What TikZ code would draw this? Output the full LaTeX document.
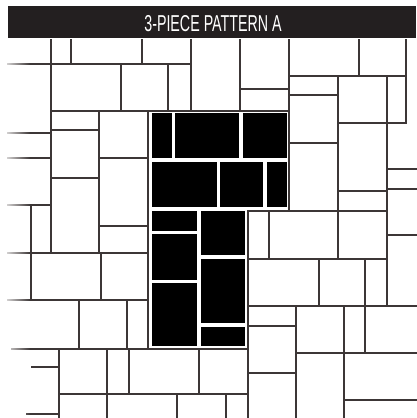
\documentclass[tikz,border=0pt]{standalone}
\usepackage{fontspec}
\newfontfamily\titlefont[FakeStretch=0.62]{Liberation Sans}
\usepackage{tikz}
\usetikzlibrary{fadings}
\definecolor{GroutGray}{RGB}{60,54,54}
\definecolor{BarBlack}{RGB}{35,31,32}

\begin{document}
\begin{tikzpicture}[x=1pt, y=-1pt,
    grout/.style={draw=GroutGray, line width=2pt, line cap=rect},
    paver/.style={fill=black},
    banner/.style={fill=BarBlack},
    title/.style={font=\titlefont\fontsize{23}{23}\selectfont, text=white, inner sep=0pt}
]
\useasboundingbox (0,0) rectangle (416,418);
\fill[white] (0,0) rectangle (416,418);
\fill[banner] (8,6) rectangle (416,38);
\node[title] (title) at (213,23.5) {3-PIECE PATTERN A};

\foreach \y/\a/\b in {63.5/8/191, 110.5/51/289, 133/8/51, 130/51/99, 158/8/51, 158/99/148,
    178/51/99, 205/8/51, 226/100/148, 253/8/148, 300/8/148, 348.5/12/248, 367/32/59,
    394/59/248, 414/27/59, 89/240/289, 76/289/406, 95/289/338, 143/289/338, 123/338/406,
    169/387/416, 189/387/416, 191/338/387, 210.5/248/387, 235/387/416, 259/248/387,
    306/248/416, 326/248/296, 373/248/296, 353/296/416, 400/344/416}
    \draw[grout] (\a,\y) -- (\b,\y);

\foreach \x/\a/\b in {51/40/253, 71/40/63.5, 142/40/63.5, 191/40/110.5, 240/40/110.5,
    289/40/210.5, 121/63.5/110.5, 168/63.5/110.5, 99/110.5/253, 148/110.5/348.5,
    31/205/300, 101/253/300, 79/300/348.5, 127/300/348.5, 59/348.5/418, 107/348.5/418,
    129/348.5/394, 199/348.5/394, 177/394/418, 226/394/418, 248/210.5/418, 269/210.5/259,
    338/76/259, 387/76/306, 359/40/76, 406/40/123, 319/259/306, 365/259/353,
    296/306/418, 344/306/418}
    \draw[grout] (\x,\a) -- (\x,\b);

\foreach \a/\b/\c/\d in {152/112.5/172/158, 175/112.5/239/158, 243/112.5/286.5/158,
    152/162/217/207, 220/162/263/207, 267/162/286.5/207,
    152/211/197/231, 152/234/197/280, 152/283/197/345.5,
    201/211/245/255, 201/259/245/323, 201/327/245/345.5}
    \fill[paver] (\a,\b) rectangle (\c,\d);

\fill[white, path fading=east, fill opacity=0.8] (6,40) rectangle (30,418);
\end{tikzpicture}
\end{document}
